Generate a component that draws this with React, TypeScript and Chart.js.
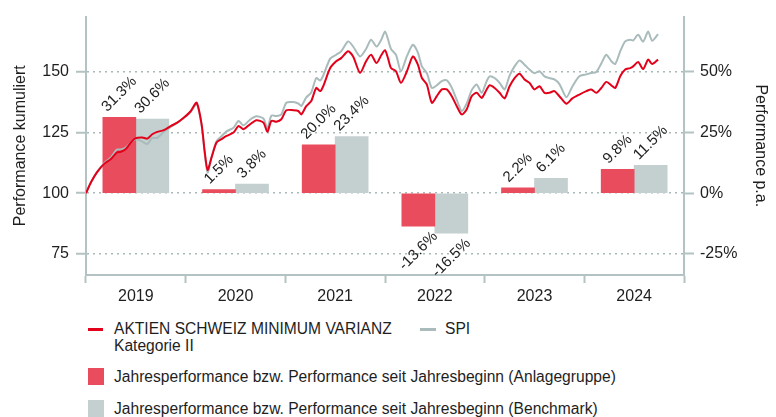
import React, { useEffect, useRef } from "react";
import { Chart, registerables } from "chart.js";

Chart.register(...registerables);

const years = ["2019", "2020", "2021", "2022", "2023", "2024"];
const fundYearly = [31.3, 1.5, 20.0, -13.6, 2.2, 9.8];
const benchYearly = [30.6, 3.8, 23.4, -16.5, 6.1, 11.5];

const leftTicks = [75, 100, 125, 150];
const rightTicks = [-25, 0, 25, 50];

// time in years since 2019-01-01
const lineT = [
  0.0, 0.05, 0.11, 0.18, 0.25, 0.31, 0.35, 0.4, 0.45, 0.5, 0.565, 0.615, 0.665, 0.715, 0.78, 0.85, 0.915, 0.98,
  1.05, 1.11, 1.16, 1.19, 1.22, 1.26, 1.31, 1.36, 1.41, 1.48, 1.53, 1.58, 1.645, 1.71, 1.78, 1.82, 1.86, 1.91, 1.96,
  2.01, 2.08, 2.13, 2.16, 2.21, 2.26, 2.31, 2.35, 2.38, 2.45, 2.51, 2.56, 2.63, 2.68, 2.75, 2.81, 2.86, 2.915, 2.965,
  3.0, 3.03, 3.06, 3.11, 3.16, 3.22, 3.28, 3.33, 3.37, 3.42, 3.47, 3.52, 3.57, 3.62, 3.67, 3.72, 3.77, 3.82, 3.87,
  3.92, 3.97, 4.02, 4.05, 4.1, 4.15, 4.2, 4.25, 4.3, 4.35, 4.4, 4.45, 4.5, 4.55, 4.6, 4.65, 4.7, 4.75, 4.82, 4.88,
  4.95, 5.02, 5.07, 5.12, 5.17, 5.22, 5.27, 5.31, 5.36, 5.41, 5.46, 5.49, 5.54, 5.59, 5.64, 5.68, 5.74,
];

const fundLine = [
  100, 104.5, 108.6, 112.0, 114.1, 116.8, 117.1, 118.2, 120.9, 122.7, 123.0, 122.5, 124.3, 125.3, 126.0, 127.7, 129.1, 131.1,
  133.8, 137.3, 128.4, 117.5, 109.6, 114.8, 120.9, 122.3, 123.6, 125.0, 127.7, 126.4, 128.4, 130.1, 129.1, 125.3, 129.8, 129.5, 130.5,
  134.2, 134.2, 133.9, 132.5, 135.9, 138.0, 143.4, 142.1, 144.1, 151.6, 154.4, 155.7, 158.5, 156.4, 149.6, 154.4, 157.1, 153.7, 157.1,
  159.0, 155.7, 151.6, 150.3, 145.5, 150.3, 156.4, 153.0, 147.5, 144.8, 137.3, 140.0, 142.8, 142.8, 140.0, 135.9, 132.5, 134.6, 140.0,
  141.4, 139.3, 142.8, 144.5, 143.4, 141.4, 139.1, 144.1, 147.5, 149.3, 146.9, 145.5, 142.8, 144.1, 141.4, 141.4, 142.1, 140.0, 136.9, 139.1,
  140.7, 142.1, 142.8, 141.4, 143.4, 145.9, 144.5, 143.4, 148.2, 151.0, 151.6, 152.3, 154.1, 151.2, 155.1, 153.3, 155.1,
];

const spiLine = [
  100, 104.5, 108.8, 112.3, 114.8, 118.0, 118.0, 118.8, 121.0, 122.3, 121.3, 120.3, 122.8, 122.8, 125.3, 127.3, 129.0, 131.0,
  133.5, 136.8, 128.0, 117.0, 108.5, 115.0, 121.5, 123.5, 125.5, 127.0, 129.8, 128.0, 130.3, 131.7, 130.8, 126.8, 132.0, 131.8, 132.5,
  137.3, 137.6, 137.0, 136.0, 139.5, 141.5, 147.5, 146.5, 148.5, 155.5, 157.1, 158.5, 162.6, 160.5, 156.4, 159.5, 163.3, 160.5, 163.5,
  166.7, 163.5, 159.5, 157.1, 150.3, 156.5, 161.2, 158.0, 152.3, 149.5, 143.4, 144.5, 146.2, 146.5, 143.5, 138.5, 133.9, 137.0, 142.5,
  144.8, 141.4, 146.2, 148.2, 147.5, 145.5, 142.8, 148.5, 152.3, 154.7, 153.0, 151.0, 149.5, 150.3, 148.2, 147.5, 146.9, 145.0, 139.6, 144.0,
  148.2, 149.0, 149.6, 150.0, 153.5, 157.1, 154.5, 153.3, 158.5, 162.6, 163.3, 163.0, 165.3, 162.5, 166.7, 162.9, 165.6,
];

const FONT = '"Liberation Sans", Arial, sans-serif';
const TEXT = "#1e1e1e";
const AXIS = "#b3c3c3";
const GRID = "#a9b8b8";
const RED_LINE = "#e2001a";
const GRAY_LINE = "#a9bbbb";
const RED_BAR = "#e94d5d";
const GRAY_BAR = "#c4cfcf";

const barLabels = {
  id: "barLabels",
  afterDatasetsDraw(chart: any) {
    const ctx = chart.ctx;
    chart.data.datasets.forEach((ds: any, di: number) => {
      if (ds.type !== "bar") return;
      const meta = chart.getDatasetMeta(di);
      meta.data.forEach((el: any, i: number) => {
        const v = ds.data[i];
        const label = v.toFixed(1) + "%";
        const { x, y, base } = el.getProps(["x", "y", "base"], true);
        ctx.save();
        ctx.font = "15px " + FONT;
        const w = ctx.measureText(label).width;
        const off = (w / 2) * 0.7071 + 8;
        const cy = v >= 0 ? Math.min(y, base) - off : Math.max(y, base) + off;
        ctx.translate(x, cy);
        ctx.rotate(-Math.PI / 4);
        ctx.textAlign = "center";
        ctx.textBaseline = "middle";
        ctx.fillStyle = TEXT;
        ctx.fillText(label, 0, 0);
        ctx.restore();
      });
    });
  },
};

const W = 776;
const H = 310;
const TOP = 15;
const BOTTOM = 275;
const LEFT = 86;
const RIGHT = 684;
const Y_MIN = 66.27;
const Y_MAX = 172.83;
const BAR_W = 33;

export default function App() {
  const ref = useRef<HTMLCanvasElement | null>(null);

  useEffect(() => {
    document.body.style.margin = "0";
    const canvas = ref.current;
    if (!canvas) return;
    Chart.defaults.font.family = FONT;
    Chart.defaults.color = TEXT;
    const chart = new Chart(canvas, {
      type: "bar",
      data: {
        labels: years,
        datasets: [
          {
            type: "line",
            label: "AKTIEN SCHWEIZ MINIMUM VARIANZ Kategorie II",
            data: lineT.map((t, i) => ({ x: t, y: fundLine[i] })),
            xAxisID: "xl",
            yAxisID: "y",
            borderColor: RED_LINE,
            borderWidth: 2,
            pointRadius: 0,
            tension: 0.25,
            order: 0,
          },
          {
            type: "line",
            label: "SPI",
            data: lineT.map((t, i) => ({ x: t, y: spiLine[i] })),
            xAxisID: "xl",
            yAxisID: "y",
            borderColor: GRAY_LINE,
            borderWidth: 2,
            pointRadius: 0,
            tension: 0.25,
            order: 1,
          },
          {
            type: "bar",
            label: "Anlagegruppe",
            data: fundYearly,
            xAxisID: "x",
            yAxisID: "y2",
            backgroundColor: RED_BAR,
            barThickness: BAR_W,
            order: 2,
          },
          {
            type: "bar",
            label: "Benchmark",
            data: benchYearly,
            xAxisID: "x",
            yAxisID: "y2",
            backgroundColor: GRAY_BAR,
            barThickness: BAR_W,
            order: 3,
          },
        ] as any,
      },
      options: {
        animation: false,
        responsive: false,
        devicePixelRatio: 1,
        layout: { padding: { top: TOP, left: 0, right: 0, bottom: 0 } },
        plugins: { legend: { display: false }, tooltip: { enabled: false } },
        scales: {
          x: {
            type: "category",
            position: "bottom",
            offset: true,
            grid: {
              offset: true,
              drawOnChartArea: false,
              drawTicks: true,
              tickLength: 8,
              tickWidth: 2,
              tickColor: AXIS,
            },
            border: { color: AXIS, width: 2 },
            ticks: { font: { size: 16 }, color: TEXT, padding: 4, maxRotation: 0 },
            afterFit: (s: any) => {
              s.height = H - BOTTOM;
            },
          },
          xl: {
            type: "linear",
            display: false,
            offset: false,
            min: 0,
            max: 6,
            grid: { offset: false },
          },
          y: {
            type: "linear",
            position: "left",
            min: Y_MIN,
            max: Y_MAX,
            afterBuildTicks: (s: any) => {
              s.ticks = leftTicks.map((v) => ({ value: v }));
            },
            grid: {
              color: GRID,
              lineWidth: 1.5,
              tickLength: 10,
              tickWidth: 2,
              tickColor: AXIS,
              tickBorderDash: [],
            },
            border: { color: AXIS, width: 2, dash: [2, 4] },
            ticks: { font: { size: 16 }, color: TEXT, padding: 7 },
            title: {
              display: true,
              text: "Performance kumuliert",
              font: { size: 16 },
              color: TEXT,
              padding: { top: 11, bottom: 0 },
            },
            afterFit: (s: any) => {
              s.width = LEFT;
            },
          },
          y2: {
            type: "linear",
            position: "right",
            min: Y_MIN - 100,
            max: Y_MAX - 100,
            afterBuildTicks: (s: any) => {
              s.ticks = rightTicks.map((v) => ({ value: v }));
            },
            grid: {
              drawOnChartArea: false,
              tickLength: 10,
              tickWidth: 2,
              tickColor: AXIS,
            },
            border: { color: AXIS, width: 2 },
            ticks: {
              font: { size: 16 },
              color: TEXT,
              padding: 6,
              callback: (v: any) => v + "%",
            },
            title: {
              display: true,
              text: "Performance p.a.",
              font: { size: 16 },
              color: TEXT,
              padding: { top: 6, bottom: 0 },
            },
            afterFit: (s: any) => {
              s.width = W - RIGHT;
            },
          },
        } as any,
      },
      plugins: [barLabels],
    });
    return () => chart.destroy();
  }, []);

  const textStyle: React.CSSProperties = {
    position: "absolute",
    fontFamily: FONT,
    fontSize: 15.6,
    color: TEXT,
    whiteSpace: "nowrap",
  };

  return (
    <div style={{ position: "relative", width: W, height: 417, background: "#fff", overflow: "hidden" }}>
      <canvas ref={ref} width={W} height={H} style={{ display: "block", width: W, height: H }} />
      <div style={{ position: "absolute", left: 88, top: 327.5, width: 15, height: 3, background: RED_LINE }} />
      <div style={{ ...textStyle, left: 114, top: 320, lineHeight: "17px" }}>
        AKTIEN SCHWEIZ MINIMUM VARIANZ
        <br />
        Kategorie II
      </div>
      <div style={{ position: "absolute", left: 420, top: 327.5, width: 16, height: 3, background: GRAY_LINE }} />
      <div style={{ ...textStyle, left: 445, top: 320, lineHeight: "17px" }}>SPI</div>
      <div style={{ position: "absolute", left: 88, top: 368, width: 16, height: 17, background: RED_BAR }} />
      <div style={{ ...textStyle, left: 114, top: 367, lineHeight: "19px" }}>
        Jahresperformance bzw. Performance seit Jahresbeginn (Anlagegruppe)
      </div>
      <div style={{ position: "absolute", left: 88, top: 400, width: 16, height: 17, background: GRAY_BAR }} />
      <div style={{ ...textStyle, left: 114, top: 399, lineHeight: "19px" }}>
        Jahresperformance bzw. Performance seit Jahresbeginn (Benchmark)
      </div>
    </div>
  );
}
